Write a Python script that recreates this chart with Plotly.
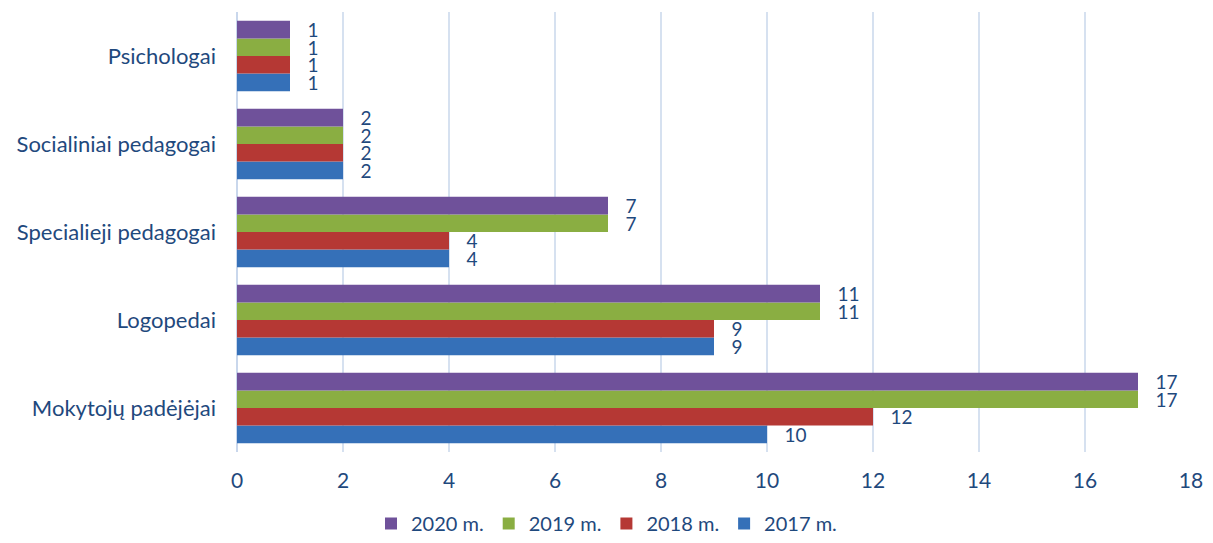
import plotly.graph_objects as go

categories = ["Mokytojų padėjėjai", "Logopedai", "Specialieji pedagogai", "Socialiniai pedagogai", "Psichologai"]
series_names = ["2017 m.", "2018 m.", "2019 m.", "2020 m."]
v2017 = [10, 9, 4, 2, 1]
v2018 = [12, 9, 4, 2, 1]
v2019 = [17, 11, 7, 2, 1]
v2020 = [17, 11, 7, 2, 1]
colors = ["#3570B8", "#B53834", "#8AAE42", "#6F519A"]
tick_vals = [0, 2, 4, 6, 8, 10, 12, 14, 16, 18]

txt = "#1F497D"
font_family = "Lato, Open Sans, sans-serif"
pad = "\u00a0\u00a0\u00a0"

fig = go.Figure()
for name, vals, col in zip(series_names, [v2017, v2018, v2019, v2020], colors):
    fig.add_trace(go.Bar(
        y=categories, x=vals, name=name, orientation="h",
        marker=dict(color=col, line=dict(width=0)),
        text=[pad + str(v) for v in vals], textposition="outside",
        textfont=dict(color=txt, size=19, family=font_family),
        cliponaxis=False,
    ))

fig.update_layout(
    width=1213, height=543,
    barmode="group", bargap=0.2, bargroupgap=0,
    plot_bgcolor="white", paper_bgcolor="white",
    margin=dict(l=237, r=22, t=12, b=91, autoexpand=False),
    font=dict(family=font_family, color=txt, size=21),
    uniformtext=dict(minsize=19, mode="show"),
    xaxis=dict(range=[0, 18], tickvals=tick_vals, showgrid=True, gridcolor="#D6E1F0",
               gridwidth=1.5, zeroline=True, zerolinecolor="#C9D7EC", zerolinewidth=2,
               showline=False, ticks="", ticklabelstandoff=14,
               tickfont=dict(size=21, color=txt)),
    yaxis=dict(categoryorder="array", categoryarray=categories, showgrid=False,
               ticks="", ticklabelstandoff=20, tickfont=dict(size=22, color=txt)),
    legend=dict(orientation="h", x=0.5, xanchor="center", xref="container",
                y=-0.012, yanchor="bottom", yref="container",
                traceorder="reversed", font=dict(size=20, color=txt),
                itemwidth=30),
)
fig.write_html("out.html", config={"displayModeBar": False},
               post_script="document.body.style.margin='0';")
